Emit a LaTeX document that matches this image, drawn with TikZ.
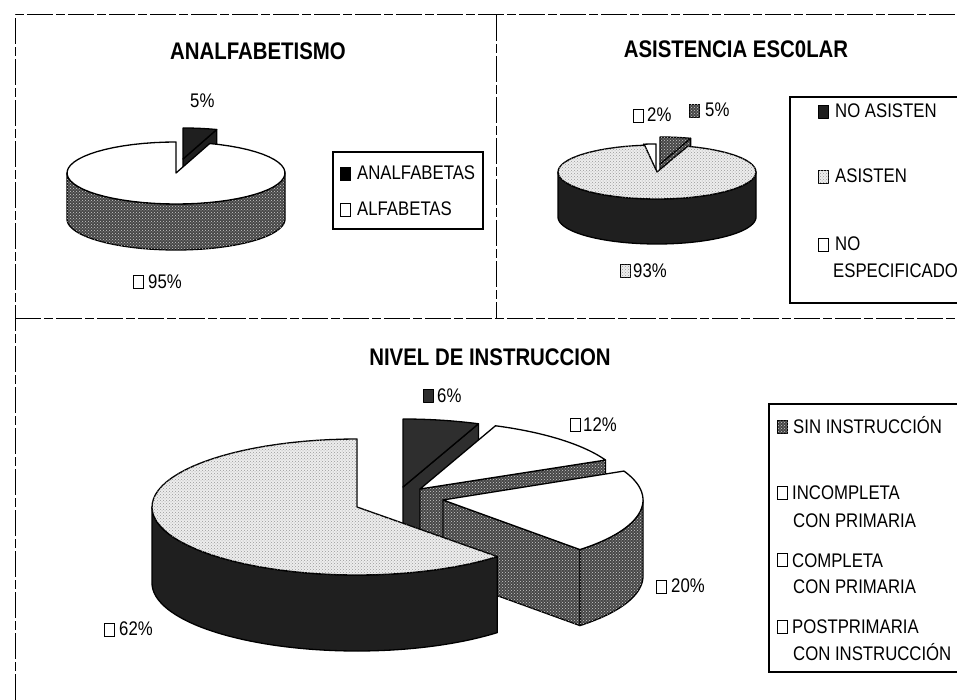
\documentclass[tikz,border=0pt]{standalone}
\usepackage{fontspec}
\setmainfont{Liberation Sans}[FakeStretch=0.85]
\usetikzlibrary{patterns}
% top face of a slice: cx, cy, rx, ry, from, to, style
\newcommand{\pTop}[7]{\draw[#7] (#1,#2) -- plot[domain=#5:#6,samples=60] ({#1+#3*cos(\x)},{#2-#4*sin(\x)}) -- cycle;}
% outer side: cx, cy, rx, ry, depth, from, to, style
\newcommand{\pSide}[8]{\draw[#8] plot[domain=#6:#7,samples=60] ({#1+#3*cos(\x)},{#2-#4*sin(\x)}) -- plot[domain=#7:#6,samples=60] ({#1+#3*cos(\x)},{#2-#4*sin(\x)+#5}) -- cycle;}
% radial face: cx, cy, rx, ry, depth, angle, style
\newcommand{\pRad}[7]{\draw[#7] (#1,#2) -- ({#1+#3*cos(#6)},{#2-#4*sin(#6)}) -- ({#1+#3*cos(#6)},{#2-#4*sin(#6)+#5}) -- (#1,{#2+#5}) -- cycle;}
\tikzset{
  edge/.style={draw=black, line width=1.3pt, line join=round},
  whiteface/.style={edge, fill=white},
  stip/.style={edge, fill=gray!14, postaction={pattern=crosshatch dots, pattern color=black!40}},
  mottle/.style={edge, fill=black!72, postaction={pattern=crosshatch dots, pattern color=white!80!black}},
  dark/.style={edge, fill=black!88},
  darkface/.style={edge, fill=black!82},
  frame/.style={line width=1pt, dash pattern=on 26pt off 3pt on 9pt off 3pt},
  lbl/.style={inner sep=0pt, anchor=base west, font=\fontsize{19.7}{23}\selectfont},
  ttl/.style={inner sep=0pt, anchor=base, font=\fontsize{24}{28}\selectfont\bfseries},
  lbox/.style={draw=black, line width=1.2pt, anchor=south west, minimum width=10pt, minimum height=13pt, inner sep=0pt},
  legbox/.style={draw=black, line width=1.1pt}
}
\begin{document}
\begin{tikzpicture}[x=1pt, y=-1pt]
\useasboundingbox (0,0) rectangle (957,700);
\fill[white] (0,0) rectangle (957,700);
% frames
\draw[frame] (15,700) -- (15,15) -- (957,15);
\draw[frame] (15,318) -- (957,318);
\draw[frame] (496,15) -- (496,318);

% ---------- ANALFABETISMO ----------
\node[ttl] (t1) at (258,60) {ANALFABETISMO};
\pRad{183}{159}{109}{31}{46}{72}{dark}
\pTop{183}{159}{109}{31}{72}{90}{dark}
\pSide{176}{173}{109}{31}{46}{180}{360}{mottle}
\pTop{176}{173}{109}{31}{90}{432}{whiteface}
\node[lbl] (p1a) at (190,108) {5\%};
\node[lbox] (b1c) at (133,289) {};
\node[lbl] (p1b) at (148,288) {95\%};
\draw[legbox] (333,152) rectangle (483,229);
\node[lbox, fill=black] (b1a) at (340,181) {};
\node[lbl] (l1a) at (357,180) {ANALFABETAS};
\node[lbox, fill=white] (b1b) at (340,217) {};
\node[lbl] (l1b) at (357,216) {ALFABETAS};

% ---------- ASISTENCIA ESCOLAR ----------
\node[ttl] (t2) at (736,58) {ASISTENCIA ESC0LAR};
\pRad{660}{164}{99}{27}{45}{72}{mottle}
\pTop{660}{164}{99}{27}{72}{90}{mottle}
\pRad{656}{171}{99}{27}{45}{97.2}{whiteface}
\pTop{656}{171}{99}{27}{90}{97.2}{whiteface}
\pSide{657}{172}{99}{27}{45}{180}{360}{dark}
\pTop{657}{172}{99}{27}{97.2}{432}{stip}
\node[lbox] (b2b) at (633,123) {};
\node[lbl] (p2b) at (647,122) {2\%};
\node[lbox, mottle] (b2a) at (689,118) {};
\node[lbl] (p2a) at (705,117) {5\%};
\node[lbox, stip] (b2c) at (620,278) {};
\node[lbl] (p2c) at (633,277) {93\%};
\draw[legbox] (957,97) -- (790,97) -- (790,303) -- (957,303);
\node[lbox, dark] (b2d) at (818,119) {};
\node[lbl] (l2a) at (835,118) {NO ASISTEN};
\node[lbox, stip] (b2e) at (818,184) {};
\node[lbl] (l2b) at (835,183) {ASISTEN};
\node[lbox] (b2f) at (818,252) {};
\node[lbl] (l2c) at (835,251) {NO};
\node[lbl] (l2d) at (833,277) {ESPECIFICADO};

% ---------- NIVEL DE INSTRUCCION ----------
\node[ttl] (t3) at (490,365) {NIVEL DE INSTRUCCION};
% 6%
\pRad{403}{487}{205}{68}{76}{68.4}{darkface}
\pTop{403}{487}{205}{68}{68.4}{90}{darkface}
% 12%
\pRad{420}{489}{205}{68}{76}{25.2}{mottle}
\pTop{420}{489}{205}{68}{25.2}{68.4}{whiteface}
% 20%
\pRad{443}{500}{200}{68}{76}{-46.8}{mottle}
\pSide{443}{500}{200}{68}{76}{-46.8}{0}{mottle}
\pTop{443}{500}{200}{68}{-46.8}{25.2}{whiteface}
% 62%
\pSide{357}{507}{205}{68}{76}{180}{313.2}{dark}
\pTop{357}{507}{205}{68}{90}{313.2}{stip}
\node[lbox, darkface] (b3a) at (423,403) {};
\node[lbl] (p3a) at (437,402) {6\%};
\node[lbox] (b3b) at (570,432) {};
\node[lbl] (p3b) at (583,431) {12\%};
\node[lbox] (b3c) at (656,594) {};
\node[lbl] (p3c) at (671,592) {20\%};
\node[lbox] (b3d) at (104,637) {};
\node[lbl] (p3d) at (119,635) {62\%};
\draw[legbox] (957,404) -- (769,404) -- (769,672) -- (957,672);
\node[lbox, mottle] (b3e) at (777,434) {};
\node[lbl] (l3a) at (793,433) {SIN INSTRUCCIÓN};
\node[lbox] (b3f) at (777,500) {};
\node[lbl] (l3b) at (792,499) {INCOMPLETA};
\node[lbl] (l3c) at (793,527) {CON PRIMARIA};
\node[lbox] (b3g) at (777,567) {};
\node[lbl] (l3d) at (792,567) {COMPLETA};
\node[lbl] (l3e) at (793,593) {CON PRIMARIA};
\node[lbox] (b3h) at (777,634) {};
\node[lbl] (l3f) at (792,633) {POSTPRIMARIA};
\node[lbl] (l3g) at (793,660) {CON INSTRUCCIÓN};
\end{tikzpicture}
\end{document}
